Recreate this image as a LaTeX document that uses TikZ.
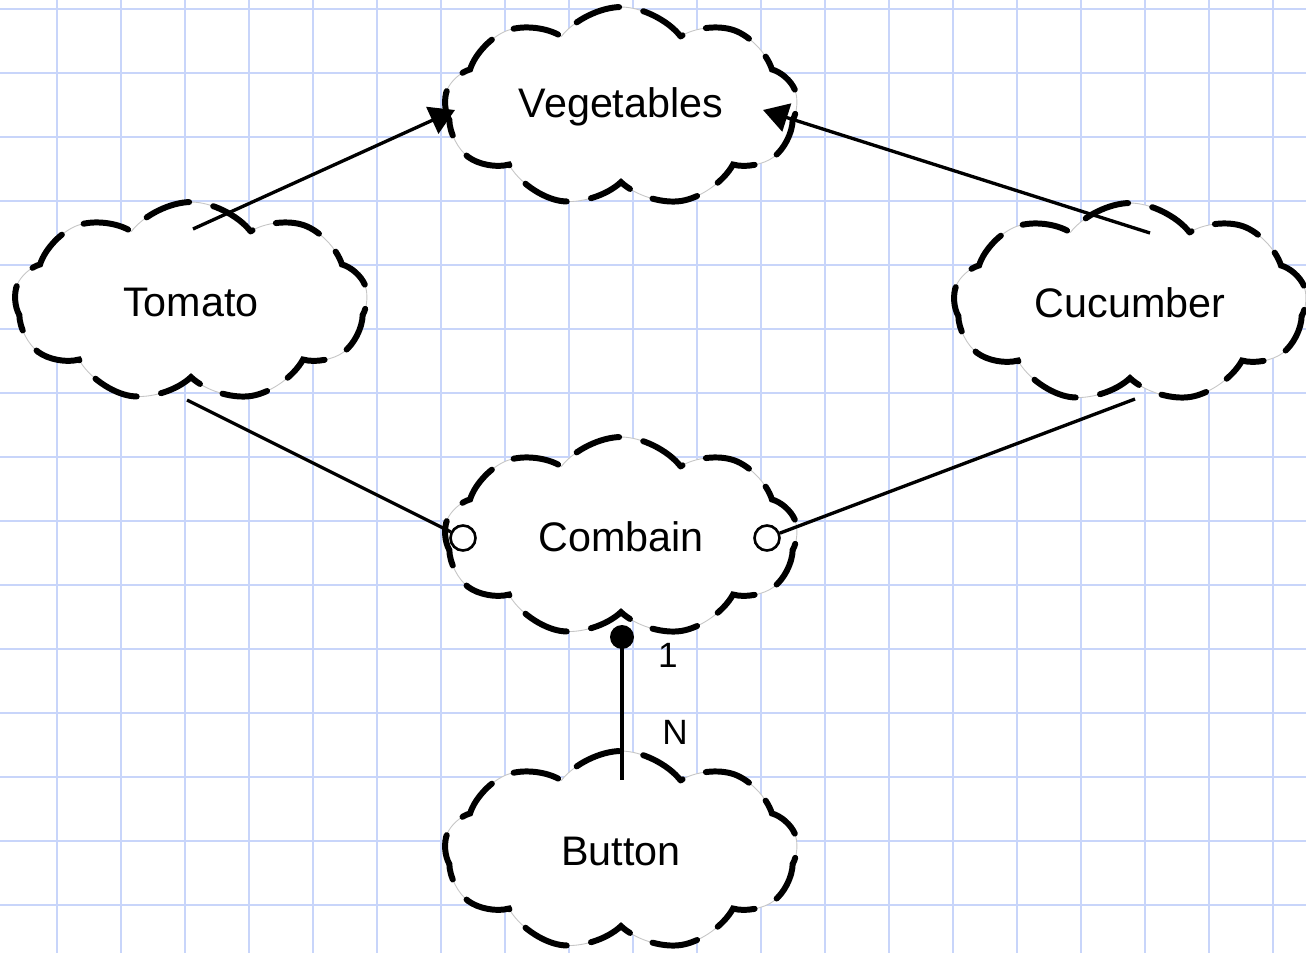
\documentclass[tikz,border=0pt]{standalone}
\usepackage{fontspec}
\setmainfont{Liberation Sans}
\usetikzlibrary{shapes.symbols,arrows.meta,calc}

\begin{document}
\begin{tikzpicture}[x=0.02cm,y=-0.02cm,
  gridline/.style={color={rgb,255:red,200;green,213;blue,250},line width=1.5pt},
  blob/.style={cloud,cloud puffs=9,cloud puff arc=105,cloud ignores aspect,inner sep=0pt,
    minimum width=7.06cm,minimum height=4cm,
    preaction={fill=white,draw=gray!45,solid,line width=0.5pt},
    draw=black,line width=3.4pt,dash pattern=on 26pt off 14pt,line cap=round,
    font=\fontsize{23.5}{28}\selectfont},
  link/.style={line width=1.9pt},
  openring/.style={circle,draw,line width=1.5pt,inner sep=0pt,minimum size=0.5cm},
  bigdot/.style={circle,fill,inner sep=0pt,minimum size=0.48cm},
  card/.style={font=\fontsize{20}{24}\selectfont}]

\useasboundingbox[fill=white] (0,0) rectangle (1306,953);
\foreach \gx in {57,121,...,1273} \draw[gridline] (\gx,0) -- (\gx,953);
\foreach \gy in {9,73,...,905} \draw[gridline] (0,\gy) -- (1306,\gy);

\foreach \n/\x/\y/\t in 
{   veg/621/107/Vegetables,
    tom/191/302/Tomato,
    cuc/1130/303/Cucumber,
    comb/621/537/Combain,
    butt/621/851/Button
}
{
    \node[blob] (\n) at (\x,\y) {\t};
};

\coordinate (cTomTop) at ($(tom)+(2,-73)$);
\coordinate (cTomBot) at ($(tom)+(-4,98)$);
\coordinate (cCucTop) at ($(cuc)+(20,-70)$);
\coordinate (cCucBot) at ($(cuc)+(5,96)$);
\coordinate (cVegL) at ($(veg)+(-166,3)$);
\coordinate (cVegR) at ($(veg)+(142,3)$);
\coordinate (cButTop) at ($(butt)+(1,-71)$);

\node[openring] (rL) at ($(comb)+(-158,1)$) {};
\node[openring] (rR) at ($(comb)+(146,1)$) {};
\node[bigdot] (dB) at ($(comb)+(1,100)$) {};

\draw[link,-{Triangle[length=0.5cm,width=0.58cm]}] (cTomTop) -- (cVegL);
\draw[link,-{Triangle[length=0.5cm,width=0.58cm]}] (cCucTop) -- (cVegR);
\draw[link] (cTomBot) -- (rL);
\draw[link] (cCucBot) -- (rR);
\draw[link] (dB.center) -- (cButTop);

\node[card] (lOne) at (668,655) {1};
\node[card] (lN) at (675,732) {N};

\end{tikzpicture}
\end{document}
